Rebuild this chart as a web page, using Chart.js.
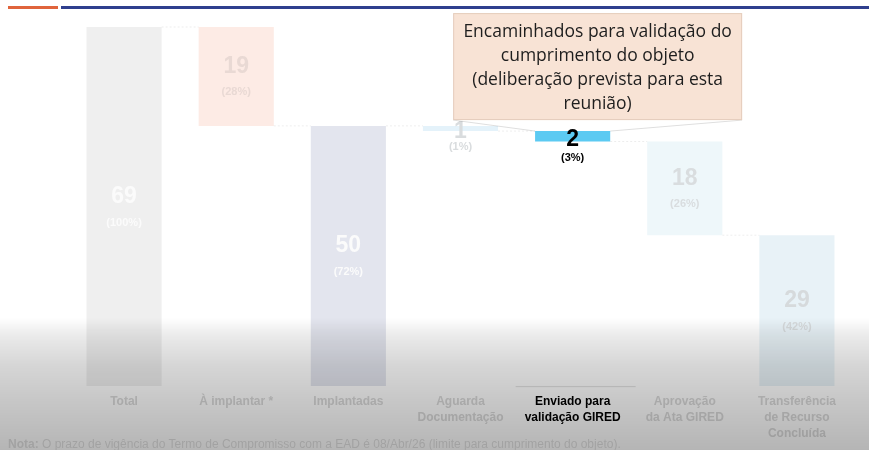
<!DOCTYPE html>
<html>
<head>
<meta charset="utf-8">
<script src="https://cdn.jsdelivr.net/npm/chart.js@4"></script>
<style>
  html, body { margin: 0; padding: 0; background: #fff; }
  #wrap { position: relative; width: 869px; height: 450px; overflow: hidden; }
  #barOrange { position: absolute; left: 8px; top: 6px; width: 50px; height: 3px; background: #e0643c; }
  #barNavy { position: absolute; left: 61px; top: 6px; width: 808px; height: 3px; background: #2f3f8e; }
  #shade { position: absolute; left: 0; top: 0; width: 869px; height: 450px; pointer-events: none;
    background: linear-gradient(to bottom, rgba(0,0,0,0) 0px, rgba(0,0,0,0) 318px, rgba(0,0,0,0.08) 335px,
      rgba(0,0,0,0.16) 365px, rgba(0,0,0,0.22) 400px, rgba(0,0,0,0.29) 450px); }
  #note { position: absolute; left: 8px; top: 437px; font: 12px "Liberation Sans", Arial, sans-serif;
    color: #a2a2a2; white-space: nowrap; filter: blur(0.6px); }
</style>
</head>
<body>
<div id="wrap">
  <canvas id="waterfall" width="869" height="450"></canvas>
  <div id="barOrange"></div>
  <div id="barNavy"></div>
  <div id="shade"></div>
  <div id="note"><b>Nota:</b> O prazo de vigência do Termo de Compromisso com a EAD é 08/Abr/26 (limite para cumprimento do objeto).</div>
</div>
<script>
const categories = [
    'Total',
    'À implantar *',
    'Implantadas',
    ['Aguarda', 'Documentação'],
    ['Enviado para', 'validação GIRED'],
    ['Aprovação', 'da Ata GIRED'],
    ['Transferência', 'de Recurso', 'Concluída']
];
const values = [69, 19, 50, 1, 2, 18, 29];
const percents = ['(100%)', '(28%)', '(72%)', '(1%)', '(3%)', '(26%)', '(42%)'];
// 'total' bars start from zero, 'step' bars hang from the running level
const kinds = ['total', 'step', 'total', 'step', 'step', 'step', 'total'];
const highlight = 4;
const calloutLines = [
    'Encaminhados para validação do',
    'cumprimento do objeto',
    '(deliberação prevista para esta',
    'reunião)'
];

// build floating ranges for the waterfall
const ranges = [];
let level = 0;
values.forEach((v, i) => {
    if (kinds[i] === 'total') {
        ranges.push([0, v]);
        level = v;
    } else {
        ranges.push([level - v, level]);
        level = level - v;
    }
});

const barColors = ['#efefef', '#fdebe5', '#e3e5ee', '#e4f2fa', '#5ccaf2', '#eef7fa', '#e8f2f7'];
const numColors = ['#fbfbfb', '#e9d9d4', '#fbfbfb', '#d9dcde', '#000000', '#d9dddf', '#d6dadc'];
const tickColors = ['#dadada', '#dadada', '#dadada', '#dadada', '#000000', '#dadada', '#dadada'];

const labelPlugin = {
    id: 'waterfallLabels',
    afterDatasetsDraw(chart) {
        const ctx = chart.ctx;
        const meta = chart.getDatasetMeta(0);
        ctx.save();

        // faint connectors between bars
        ctx.strokeStyle = 'rgba(0,0,0,0.07)';
        ctx.setLineDash([2, 2]);
        ctx.lineWidth = 1;
        for (let i = 0; i < meta.data.length - 1; i++) {
            const a = meta.data[i], b = meta.data[i + 1];
            const yLevel = chart.scales.y.getPixelForValue(ranges[i + 1][1]);
            ctx.beginPath();
            ctx.moveTo(a.x + a.width / 2, yLevel);
            ctx.lineTo(b.x - b.width / 2, yLevel);
            ctx.stroke();
        }
        ctx.setLineDash([]);

        // value + percent labels
        ctx.textAlign = 'center';
        ctx.textBaseline = 'middle';
        meta.data.forEach((bar, i) => {
            const top = Math.min(bar.y, bar.base);
            const bottom = Math.max(bar.y, bar.base);
            const mid = (top + bottom) / 2;
            let numY, pctY;
            if (bottom - top < 20) {
                numY = mid + 3;
                pctY = bottom + 16;
            } else {
                numY = mid - 10;
                pctY = mid + 16;
            }
            ctx.fillStyle = numColors[i];
            ctx.font = 'bold 23px "Liberation Sans", Arial, sans-serif';
            ctx.fillText(String(values[i]), bar.x, numY);
            ctx.font = 'bold 11px "Liberation Sans", Arial, sans-serif';
            ctx.fillText(percents[i], bar.x, pctY);
        });

        // callout pointing at the highlighted bar
        const hb = meta.data[highlight];
        const hTop = Math.min(hb.y, hb.base);
        const boxW = 289, boxH = 107;
        const boxX = hb.x + 25 - boxW / 2;
        const boxY = hTop - 11 - boxH;
        ctx.strokeStyle = 'rgba(0,0,0,0.13)';
        ctx.lineWidth = 1;
        ctx.beginPath();
        ctx.moveTo(boxX, boxY + boxH);
        ctx.lineTo(hb.x - hb.width / 2, hTop);
        ctx.moveTo(boxX + boxW, boxY + boxH);
        ctx.lineTo(hb.x + hb.width / 2, hTop);
        ctx.stroke();
        ctx.fillStyle = '#f8e3d5';
        ctx.fillRect(boxX, boxY, boxW, boxH);
        ctx.strokeStyle = 'rgba(200,170,150,0.4)';
        ctx.strokeRect(boxX + 0.5, boxY + 0.5, boxW - 1, boxH - 1);
        ctx.fillStyle = '#1e1e1e';
        ctx.font = '17.5px "Open Sans", "Noto Sans", sans-serif';
        calloutLines.forEach((line, k) => {
            ctx.fillText(line, boxX + boxW / 2, boxY + 19 + k * 24);
        });

        // baseline under highlighted category
        ctx.strokeStyle = 'rgba(0,0,0,0.12)';
        ctx.beginPath();
        ctx.moveTo(hb.x - 57, chart.chartArea.bottom + 0.5);
        ctx.lineTo(hb.x + 63, chart.chartArea.bottom + 0.5);
        ctx.stroke();

        ctx.restore();
    }
};

const ctx = document.getElementById('waterfall').getContext('2d');
new Chart(ctx, {
    type: 'bar',
    data: {
        labels: categories,
        datasets: [{
            data: ranges,
            backgroundColor: barColors,
            borderWidth: 0,
            barPercentage: 0.67,
            categoryPercentage: 1
        }]
    },
    options: {
        responsive: false,
        animation: false,
        layout: { padding: { left: 68, right: 16, top: 27, bottom: 0 } },
        plugins: {
            legend: { display: false },
            tooltip: { enabled: false }
        },
        scales: {
            y: { display: false, min: 0, max: 69 },
            x: {
                grid: { display: false, drawTicks: false },
                border: { display: false },
                ticks: {
                    autoSkip: false,
                    maxRotation: 0,
                    padding: 8,
                    color: (c) => tickColors[c.index],
                    font: { family: '"Liberation Sans", Arial, sans-serif', size: 12, weight: 'bold', lineHeight: 1.33 }
                }
            }
        }
    },
    plugins: [labelPlugin]
});
</script>
</body>
</html>
